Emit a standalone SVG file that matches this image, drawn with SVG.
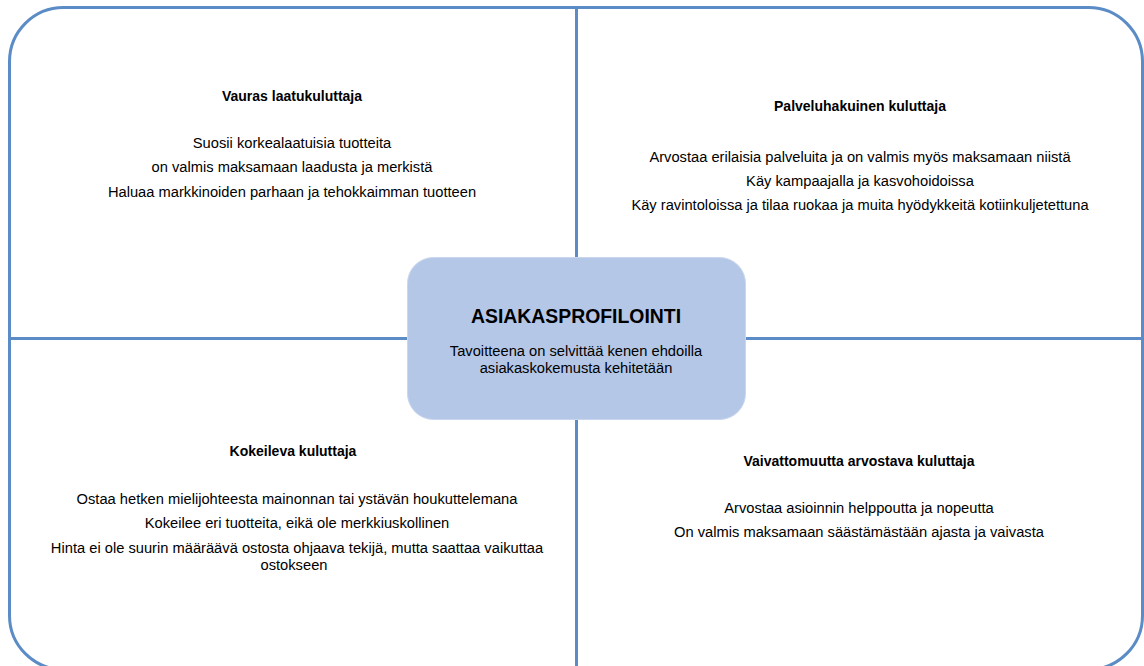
<svg xmlns="http://www.w3.org/2000/svg" width="1144" height="666" viewBox="0 0 1144 666">
<style>
  .frame { fill: none; stroke: #5b8cc5; stroke-width: 3; }
  .div { stroke: #5b8cc5; stroke-width: 3; }
  .hub { fill: #b4c7e7; stroke: #c9d7ee; stroke-width: 1; }
  text { font-family: "Liberation Sans", Arial, sans-serif; fill: #000; text-anchor: middle; }
  .h { font-weight: bold; font-size: 14px; }
  .b { font-size: 14.7px; }
  .t { font-weight: bold; font-size: 19.4px; }
</style>
<rect width="1144" height="666" fill="#ffffff"/>
<g id="connectors">
  <rect class="frame" x="9.5" y="7.5" width="1133" height="662" rx="54" ry="54"/>
  <line class="div" x1="576.5" y1="7" x2="576.5" y2="666"/>
  <line class="div" x1="9" y1="338.5" x2="1142" y2="338.5"/>
</g>
<g id="q-top-left">
  <text class="h" x="292" y="101">Vauras laatukuluttaja</text>
  <text class="b" x="292" y="148">Suosii korkealaatuisia tuotteita</text>
  <text class="b" x="292" y="172">on valmis maksamaan laadusta ja merkistä</text>
  <text class="b" x="292" y="197">Haluaa markkinoiden parhaan ja tehokkaimman tuotteen</text>
</g>
<g id="q-top-right">
  <text class="h" x="860" y="111">Palveluhakuinen kuluttaja</text>
  <text class="b" x="860" y="162">Arvostaa erilaisia palveluita ja on valmis myös maksamaan niistä</text>
  <text class="b" x="860" y="186">Käy kampaajalla ja kasvohoidoissa</text>
  <text class="b" x="860" y="210">Käy ravintoloissa ja tilaa ruokaa ja muita hyödykkeitä kotiinkuljetettuna</text>
</g>
<g id="q-bottom-left">
  <text class="h" x="293" y="456">Kokeileva kuluttaja</text>
  <text class="b" x="297" y="504">Ostaa hetken mielijohteesta mainonnan tai ystävän houkuttelemana</text>
  <text class="b" x="297" y="528">Kokeilee eri tuotteita, eikä ole merkkiuskollinen</text>
  <text class="b" x="297" y="553">Hinta ei ole suurin määräävä ostosta ohjaava tekijä, mutta saattaa vaikuttaa</text>
  <text class="b" x="294" y="570">ostokseen</text>
</g>
<g id="q-bottom-right">
  <text class="h" x="859" y="466">Vaivattomuutta arvostava kuluttaja</text>
  <text class="b" x="859" y="513">Arvostaa asioinnin helppoutta ja nopeutta</text>
  <text class="b" x="859" y="537">On valmis maksamaan säästämästään ajasta ja vaivasta</text>
</g>
<g id="hub">
  <rect class="hub" x="407.5" y="257.5" width="338" height="162" rx="26" ry="26"/>
  <text class="t" x="576" y="323">ASIAKASPROFILOINTI</text>
  <text class="b" x="576" y="356">Tavoitteena on selvittää kenen ehdoilla</text>
  <text class="b" x="576" y="373">asiakaskokemusta kehitetään</text>
</g>
</svg>
